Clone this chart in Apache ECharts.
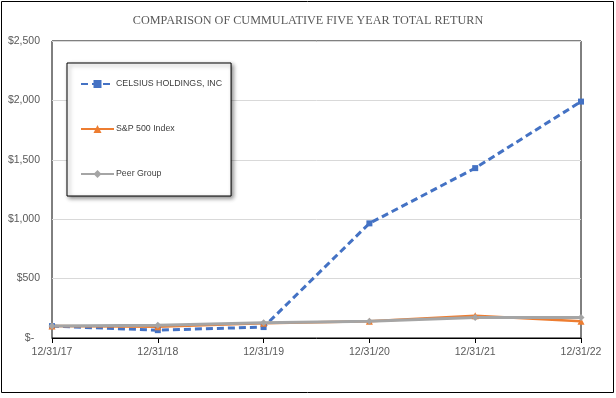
<!DOCTYPE html>
<html>
<head>
<meta charset="utf-8">
<script src="https://cdn.jsdelivr.net/npm/echarts@6/dist/echarts.min.js"></script>
<style>
  html, body { margin: 0; padding: 0; background: #fff; }
  #chart { width: 616px; height: 398px; }
</style>
</head>
<body>
<div id="chart"></div>
<script>
  const years = ['12/31/17', '12/31/18', '12/31/19', '12/31/20', '12/31/21', '12/31/22'];
  const celsius = [100, 66, 92, 965, 1430, 1990];
  const sp500 = [100, 95, 124, 140, 188, 140];
  const peerGroup = [100, 108, 129, 140, 172, 172];

  const chart = echarts.init(document.getElementById('chart'));

  const labelFont = 'Liberation Sans, Arial, sans-serif';

  chart.setOption({
    animation: false,
    backgroundColor: '#fff',
    title: {
      text: 'COMPARISON OF CUMMULATIVE FIVE YEAR TOTAL RETURN',
      left: 'center',
      top: 10,
      textStyle: {
        fontFamily: 'Liberation Serif, Times New Roman, serif',
        fontWeight: 'normal',
        fontSize: 12.2,
        color: '#595959',
      },
    },
    graphic: [
      {
        type: 'rect',
        shape: { x: 1.5, y: 1.5, width: 612, height: 391 },
        style: { fill: 'none', stroke: '#000', lineWidth: 1 },
        silent: true,
      },
    ],
    legend: {
      orient: 'vertical',
      left: 67,
      top: 63,
      padding: [15, 9, 16, 13],
      itemGap: 33,
      itemWidth: 33,
      itemHeight: 10,
      backgroundColor: '#fff',
      borderColor: '#000',
      borderWidth: 1,
      shadowBlur: 4,
      shadowColor: 'rgba(0,0,0,0.45)',
      shadowOffsetX: 2,
      shadowOffsetY: 2,
      textStyle: {
        fontFamily: labelFont,
        fontSize: 8.8,
        lineHeight: 12,
        color: '#404040',
        padding: [0, 0, 0, -3],
      },
      data: ['CELSIUS HOLDINGS, INC', 'S&P 500 Index', 'Peer Group'],
    },
    grid: {
      left: 52,
      right: 35,
      top: 41,
      bottom: 60,
      show: true,
      borderColor: '#000',
      borderWidth: 1,
    },
    xAxis: {
      type: 'category',
      data: years,
      boundaryGap: false,
      axisLine: { lineStyle: { color: '#000', width: 1 } },
      axisTick: { show: true, length: 5, lineStyle: { color: '#000' } },
      axisLabel: {
        fontFamily: labelFont,
        fontSize: 10.5,
        color: '#595959',
        margin: 9,
      },
    },
    yAxis: {
      type: 'value',
      min: 0,
      max: 2500,
      interval: 500,
      axisLine: { show: false },
      axisTick: { show: false },
      splitLine: { lineStyle: { color: '#D9D9D9', width: 1 } },
      axisLabel: {
        fontFamily: labelFont,
        fontSize: 10.5,
        color: '#595959',
        margin: 12,
        formatter: function (value) {
          if (value === 0) return '$-\u00a0\u00a0';
          return '$' + value.toLocaleString('en-US');
        },
      },
    },
    series: [
      {
        name: 'CELSIUS HOLDINGS, INC',
        type: 'line',
        data: celsius,
        symbol: 'rect',
        symbolSize: 6,
        itemStyle: { color: '#4472C4' },
        lineStyle: { color: '#4472C4', width: 3, type: [7, 4] },
      },
      {
        name: 'S&P 500 Index',
        type: 'line',
        data: sp500,
        symbol: 'triangle',
        symbolSize: 7,
        itemStyle: { color: '#ED7D31' },
        lineStyle: { color: '#ED7D31', width: 2.5 },
      },
      {
        name: 'Peer Group',
        type: 'line',
        data: peerGroup,
        symbol: 'diamond',
        symbolSize: 7,
        itemStyle: { color: '#A5A5A5' },
        lineStyle: { color: '#A5A5A5', width: 3 },
      },
    ],
  });
</script>
</body>
</html>
